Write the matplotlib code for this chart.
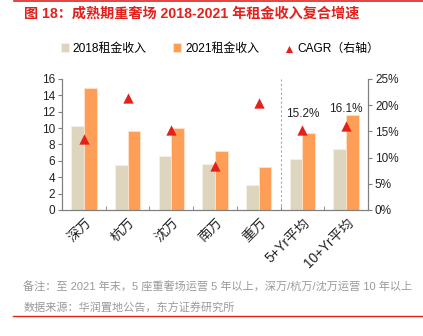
import numpy as np
import matplotlib.pyplot as plt
from matplotlib.ticker import FuncFormatter

plt.rcParams['font.family'] = ['Liberation Sans', 'Noto Sans CJK SC', 'DejaVu Sans']

# 数据
categories = ['深万', '杭万', '沈万', '南万', '重万', '5+Yr平均', '10+Yr平均']
rent_2018 = [10.2, 5.45, 6.55, 5.6, 3.0, 6.2, 7.4]
rent_2021 = [14.9, 9.7, 10.0, 7.15, 5.3, 9.45, 11.6]
cagr = [13.5, 21.3, 15.3, 8.3, 20.4, 15.2, 16.1]
cagr_labels = {5: '15.2%', 6: '16.1%'}

c18 = '#DED5BF'
c21 = '#FF9E57'
cred = '#E3211C'
grey = '#7f7f7f'

fig = plt.figure(figsize=(4.23, 3.36), dpi=100)
ax = fig.add_axes([0.1466, 0.375, 0.7234, 0.39])
ax2 = ax.twinx()

x = np.arange(len(categories))
w = 0.29
ax.bar(x - w/2, rent_2018, w, color=c18, edgecolor='#F6F0E6', linewidth=0.6, label='2018租金收入', zorder=2)
ax.bar(x + w/2, rent_2021, w, color=c21, edgecolor='#FFE3CC', linewidth=0.6, label='2021租金收入', zorder=2)
ax2.scatter(x, cagr, marker='^', s=55, color=cred, label='CAGR（右轴）', zorder=3, linewidths=0)

for i, txt in cagr_labels.items():
    ax2.text(x[i], cagr[i] + 3.2, txt, ha='center', va='center', fontsize=8.5, color='#222222')

ax.set_xlim(-0.5, len(categories) - 0.5)
ax.set_ylim(0, 16)
ax.set_yticks(range(0, 17, 2))
ax2.set_ylim(0, 25)
ax2.set_yticks(range(0, 26, 5))
ax2.yaxis.set_major_formatter(FuncFormatter(lambda v, p: f'{int(v)}%'))

ax.axvline(4.5, color='#aaaaaa', linestyle=(0, (2, 2)), linewidth=0.8, zorder=1)

for a in (ax, ax2):
    a.spines['top'].set_visible(False)
    for s in ('left', 'right', 'bottom'):
        a.spines[s].set_color(grey)
        a.spines[s].set_linewidth(0.8)
    a.tick_params(axis='y', labelsize=8.5, length=3, color=grey, labelcolor='#222222', pad=2)

ax.set_xticks(x)
ax.set_xticklabels(categories, rotation=45, ha='right', rotation_mode='anchor', fontsize=9.8, color='#222222')
ax.set_xticks(np.arange(0.5, len(categories) - 0.5), minor=True)
ax.tick_params(axis='x', which='major', length=0, pad=4)
ax.tick_params(axis='x', which='minor', length=3, direction='in', color=grey)

# 图例
h1, l1 = ax.get_legend_handles_labels()
h2, l2 = ax2.get_legend_handles_labels()
fig.legend(h1 + h2, l1 + l2, loc='center', bbox_to_anchor=(0.52, 0.855), ncol=3, frameon=False,
           fontsize=8.6, handlelength=0.7, handleheight=0.7, handletextpad=0.3, columnspacing=2.2,
           markerscale=0.7)

# 标题与注释
fig.text(0.057, 0.958, '图 18：成熟期重奢场 2018-2021 年租金收入复合增速', fontsize=10.2, color=cred,
         fontweight='bold', va='center')
fig.add_artist(plt.Line2D([0.033, 1.0], [0.997, 0.997], color=cred, linewidth=1.2))
fig.text(0.055, 0.145, '备注：至 2021 年末，5 座重奢场运营 5 年以上，深万/杭万/沈万运营 10 年以上',
         fontsize=8.0, color='#9a9a9a', va='center')
fig.text(0.055, 0.083, '数据来源：华润置地公告，东方证券研究所', fontsize=8.0, color='#9a9a9a', va='center')
fig.add_artist(plt.Line2D([0.031, 1.0], [0.06, 0.06], color=cred, linewidth=1.0))

fig.savefig('out.png', dpi=100)
